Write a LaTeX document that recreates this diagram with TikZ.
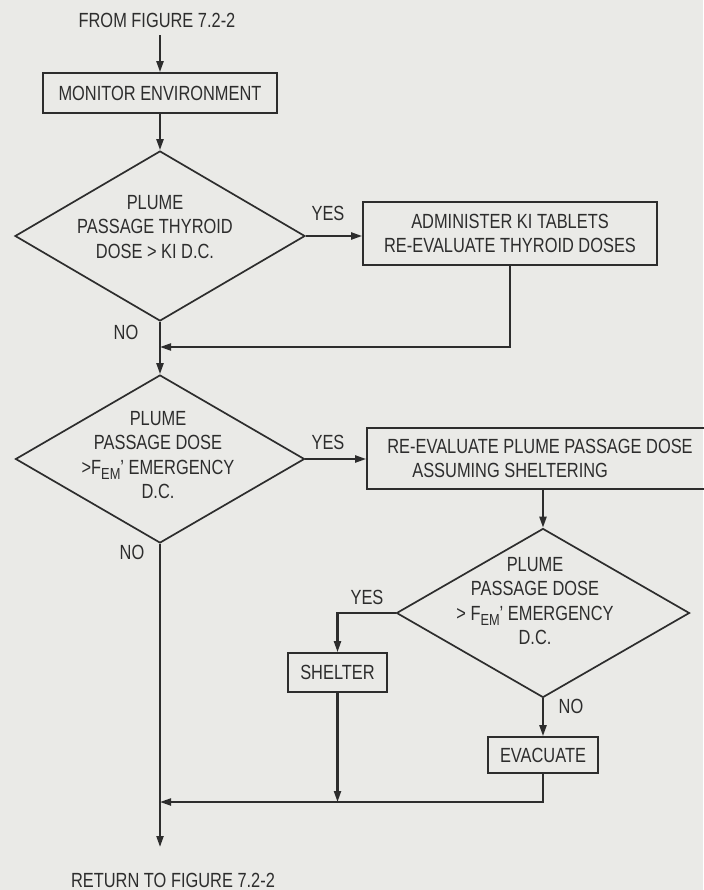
\documentclass[tikz,border=0pt]{standalone}
\usepackage{fontspec}
\setmainfont{Liberation Sans}[FakeStretch=0.8]
\usetikzlibrary{shapes.geometric,arrows.meta}
\definecolor{paper}{RGB}{234,234,231}
\definecolor{ink}{RGB}{45,45,45}
% lowered subscript at near text size
\newcommand{\lowsub}[1]{\raisebox{-0.45ex}{\fontsize{16}{16}\selectfont #1}}

\begin{document}
\begin{tikzpicture}[x=1pt,y=-1pt,
  every node/.style={text=ink, font=\fontsize{20.5}{24.5}\selectfont},
  flow/.style={draw=ink, line width=2.1pt},
  arr/.style={flow, -{Triangle[length=11pt,width=7pt]}},
  box/.style={draw=ink, line width=1.7pt, rectangle, inner sep=0pt, align=center},
  decision/.style={draw=ink, line width=1.7pt, diamond, inner sep=0pt},
  txt/.style={inner sep=0pt, align=center},
]
% paper and page frame
\fill[paper] (0,0) rectangle (703,890);
\useasboundingbox (0,0) rectangle (703,890);

% steps and decisions
\node[txt] (from) at (157,20) {FROM FIGURE 7.2-2};
\node[box, minimum width=234pt, minimum height=40pt] (mon) at (160,93) {MONITOR ENVIRONMENT};

\node[decision, minimum width=290pt, minimum height=170pt] (d1) at (160,236) {};
\node[txt] (d1t) at (155,227) {PLUME\\PASSAGE THYROID\\DOSE > KI D.C.};
\node[box, minimum width=294pt, minimum height=63pt] (b1) at (510,233.5)
  {ADMINISTER KI TABLETS\\RE-EVALUATE THYROID DOSES};

\node[decision, minimum width=289pt, minimum height=168pt] (d2) at (160,459) {};
\node[txt] (d2t) at (158,455) {PLUME\\PASSAGE DOSE\\>F\lowsub{EM}' EMERGENCY\\D.C.};
\node[box, minimum width=346pt, minimum height=61pt, align=left] (b2) at (540,458.5)
  {RE-EVALUATE PLUME PASSAGE DOSE\\\hspace*{25pt}ASSUMING SHELTERING};

\node[decision, minimum width=293pt, minimum height=169pt] (d3) at (543,613) {};
\node[txt] (d3t) at (535,601) {PLUME\\PASSAGE DOSE\\> F\lowsub{EM}' EMERGENCY\\D.C.};

\node[box, minimum width=99pt, minimum height=39pt] (sh) at (337.5,672.5) {SHELTER};
\node[box, minimum width=110pt, minimum height=36pt] (ev) at (543,755) {EVACUATE};
\node[txt] (ret) at (173,880) {RETURN TO FIGURE 7.2-2};

% branch labels
\node[txt] (y1) at (328,213) {YES};
\node[txt] (n1) at (126,332) {NO};
\node[txt] (y2) at (328,442) {YES};
\node[txt] (n2) at (132,552) {NO};
\node[txt] (y3) at (367,597) {YES};
\node[txt] (n3) at (571,706) {NO};

% junctions on the main line
\coordinate (j1) at (160,347);
\coordinate (j2) at (160,802);
\coordinate (out) at (160,847);

% connectors
\draw[arr] (from.south -| mon.north) ++(0,8) -- (mon.north);
\draw[arr] (mon.south) -- (d1.north);
\draw[arr] (d1.east) -- (d1.east -| b1.west);
\draw[arr] (d1.south) -- (d2.north);
\draw[arr] (b1.south) |- (j1);
\draw[arr] (d2.east) -- (d2.east -| b2.west);
\draw[arr] (b2.south -| d3.north) -- (d3.north);
\draw[arr] (d3.west) -| (sh.north);
\draw[arr] (d3.south) -- (ev.north);
\draw[arr] (sh.south) -- (sh.south |- j2);
\draw[arr] (ev.south) |- (j2);
\draw[arr] (d2.south) -- (out);
\end{tikzpicture}
\end{document}
